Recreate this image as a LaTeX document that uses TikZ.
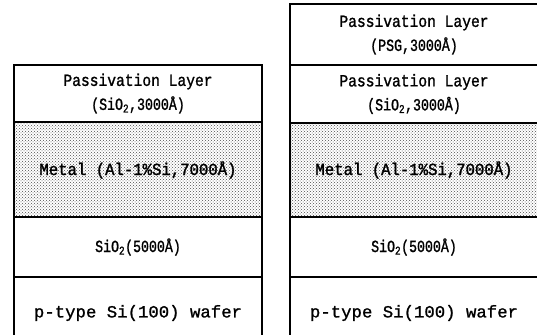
\documentclass[tikz,border=0pt]{standalone}
\usepackage{fontspec}
\newfontfamily\lyrfont[FakeStretch=0.86,FakeBold=1.2]{Liberation Mono}
\newfontfamily\lyrwide[FakeStretch=1.02,FakeBold=1.2]{Liberation Mono}
\newfontfamily\lyrnarrow[FakeStretch=0.78,FakeBold=1.2]{Liberation Mono}
\newfontfamily\lyrmid[FakeStretch=0.92,FakeBold=1.6]{Liberation Mono}
\usetikzlibrary{patterns}
\tikzset{
  lyr/.style={draw=black, line width=1.2pt, minimum width=248pt, inner sep=0pt,
    align=center, font=\lyrfont\fontsize{17}{24}\selectfont},
  lyrmetal/.style={lyr, pattern=crosshatch dots, pattern color=black!70},
  lyrtxt/.style={inner sep=0pt, font=\lyrmid\fontsize{17}{20}\selectfont}
}

\begin{document}
\begin{tikzpicture}[x=1pt,y=-1pt]
  \useasboundingbox (0,0) rectangle (537,334);
  % left stack
  \node[lyr, minimum height=57pt] (lpass) at (138,93.5) {Passivation Layer\\{\lyrnarrow (SiO\textsubscript{2},3000Å)}};
  \node[lyrmetal, minimum height=95pt] (lmetal) at (138,170) {};
  \node[lyrtxt] (lmetaltxt) at (lmetal) {Metal (Al-1\%Si,7000Å)};
  \node[lyr, minimum height=60pt] (lox) at (138,247) {\lyrnarrow SiO\textsubscript{2}(5000Å)};
  \node[lyr, minimum height=72pt] (lwafer) at (138,313) {\lyrwide p-type Si(100) wafer};
  % right stack
  \node[lyr, minimum height=61pt] (rpsg) at (414,34.5) {Passivation Layer\\{\lyrnarrow (PSG,3000Å)}};
  \node[lyr, minimum height=58pt] (rpass) at (414,94) {Passivation Layer\\{\lyrnarrow (SiO\textsubscript{2},3000Å)}};
  \node[lyrmetal, minimum height=94pt] (rmetal) at (414,170) {};
  \node[lyrtxt] (rmetaltxt) at (rmetal) {Metal (Al-1\%Si,7000Å)};
  \node[lyr, minimum height=60pt] (rox) at (414,247) {\lyrnarrow SiO\textsubscript{2}(5000Å)};
  \node[lyr, minimum height=72pt] (rwafer) at (414,313) {\lyrwide p-type Si(100) wafer};
\end{tikzpicture}
\end{document}
